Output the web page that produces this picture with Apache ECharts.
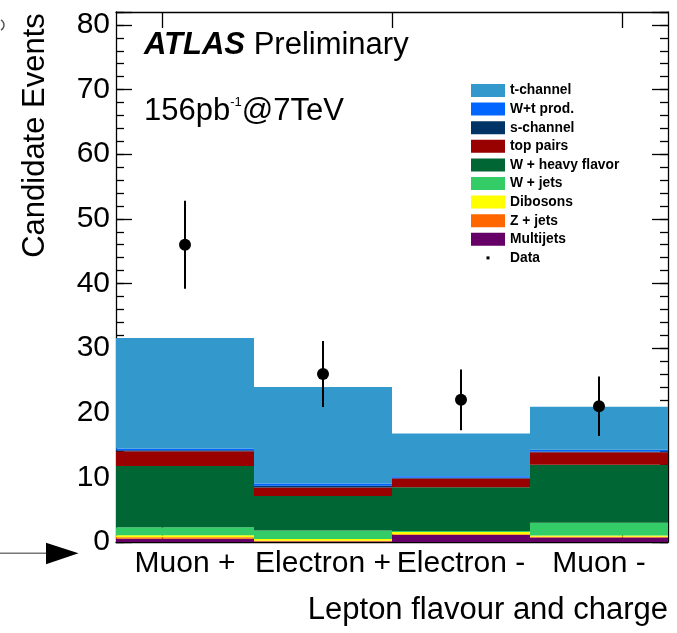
<!DOCTYPE html>
<html>
<head>
<meta charset="utf-8">
<script src="https://cdn.jsdelivr.net/npm/echarts@6/dist/echarts.min.js"></script>
<style>
  html, body { margin: 0; padding: 0; background: #fff; }
  #chart { width: 677px; height: 633px; }
</style>
</head>
<body>
<div id="chart"></div>
<script>
// Bins of the histogram
const categories = ['Muon +', 'Electron +', 'Electron -', 'Muon -'];

// Expected events per process, stacked from the bottom up
const multijets    = [0.50, 0.06, 1.07, 0.70];
const zJets        = [0.25, 0.15, 0.12, 0.10];
const dibosons     = [0.30, 0.25, 0.35, 0.22];
const wJets        = [1.25, 1.30, 0.15, 1.95];
const wHeavyFlavor = [9.45, 5.35, 6.80, 9.00];
const topPairs     = [2.30, 1.33, 1.35, 1.90];
const sChannel     = [0.15, 0.25, 0.10, 0.15];
const wtProd       = [0.25, 0.35, 0.25, 0.25];
const tChannel     = [17.10, 14.95, 6.60, 6.65];

// Observed candidates and their statistical uncertainty
const dataCounts = [46, 26, 22, 21];
const dataErrors = [6.8, 5.1, 4.7, 4.6];

// Axis ticks
const yMajorStep = 10;
const yMinorStep = 2;
const yMax = 82;
const xTickValues = [1 / 3, 2, 11 / 3];

const FONT = '"Liberation Sans", Arial, Helvetica, sans-serif';

const processes = [
  { name: 'Multijets',          values: multijets,    color: '#660066' },
  { name: 'Z + jets',           values: zJets,        color: '#ff6600' },
  { name: 'Dibosons',           values: dibosons,     color: '#ffff00' },
  { name: 'W + jets',           values: wJets,        color: '#33cc66' },
  { name: 'W + heavy flavor',   values: wHeavyFlavor, color: '#006633' },
  { name: 'top pairs',          values: topPairs,     color: '#990000' },
  { name: 's-channel',          values: sChannel,     color: '#003366' },
  { name: 'W+t prod.',          values: wtProd,       color: '#0066ff' },
  { name: 't-channel',          values: tChannel,     color: '#3399cc' }
];

const axisColor = '#000';
const lineW = 1.3;

const barSeries = processes.map(p => ({
  type: 'bar',
  name: p.name,
  data: p.values,
  stack: 'background',
  barWidth: '100%',
  barCategoryGap: '0%',
  silent: true,
  itemStyle: { color: p.color, opacity: 1 },
  emphasis: { disabled: true },
  xAxisIndex: 0,
  yAxisIndex: 0
}));

const legendItems = processes.slice().reverse().map(p => ({ name: p.name }));
legendItems.push({ name: 'Data', icon: 'path://M0,0M34,13M15.5,5h3v3h-3z' });

function hiddenValueXAxis(position) {
  return {
    type: 'value',
    position: position,
    min: 0,
    max: categories.length,
    axisLine: { show: position === 'top', onZero: false, lineStyle: { color: axisColor, width: lineW } },
    axisLabel: { show: false },
    splitLine: { show: false },
    axisTick: {
      show: true, inside: true, length: 16,
      customValues: xTickValues,
      lineStyle: { color: axisColor, width: lineW }
    }
  };
}

function yAxisDef(position, step, tickLen, withLabels, withLine) {
  return {
    type: 'value',
    position: position,
    min: 0,
    max: yMax,
    interval: step,
    axisLine: { show: withLine, onZero: false, lineStyle: { color: axisColor, width: lineW } },
    axisTick: { show: true, inside: true, length: tickLen, lineStyle: { color: axisColor, width: lineW } },
    axisLabel: withLabels ? {
      show: true, color: '#000', fontSize: 30, fontFamily: FONT, margin: 6,
      formatter: v => (v % yMajorStep === 0 ? String(v) : '')
    } : { show: false },
    splitLine: { show: false }
  };
}

const option = {
  backgroundColor: '#fff',
  animation: false,
  grid: { left: 116, right: 9, top: 12, bottom: 91, containLabel: false, outerBoundsMode: 'none' },
  legend: {
    orient: 'vertical',
    left: 471,
    top: 83.5,
    padding: 0,
    itemWidth: 34,
    itemHeight: 13,
    itemGap: 4.6,
    icon: 'rect',
    selectedMode: false,
    textStyle: { color: '#000', fontSize: 13.8, fontWeight: 'bold', fontFamily: FONT },
    data: legendItems
  },
  xAxis: [
    {
      type: 'category',
      data: categories,
      position: 'bottom',
      boundaryGap: true,
      axisLine: { show: true, onZero: false, lineStyle: { color: axisColor, width: lineW } },
      axisTick: { show: false },
      axisLabel: { color: '#000', fontSize: 30, fontFamily: FONT, margin: 7, interval: 0 },
      splitLine: { show: false }
    },
    hiddenValueXAxis('bottom'),
    hiddenValueXAxis('top')
  ],
  yAxis: [
    yAxisDef('left', yMajorStep, 16, true, true),
    yAxisDef('left', yMinorStep, 8, false, false),
    yAxisDef('right', yMajorStep, 16, false, true),
    yAxisDef('right', yMinorStep, 8, false, false)
  ],
  series: barSeries.concat([
    {
      type: 'custom',
      name: 'Data errors',
      xAxisIndex: 0,
      yAxisIndex: 0,
      silent: true,
      z: 9,
      data: dataCounts.map((v, i) => [i, v - dataErrors[i], v + dataErrors[i]]),
      encode: { x: 0, y: [1, 2] },
      renderItem: function (params, api) {
        const lo = api.coord([api.value(0), api.value(1)]);
        const hi = api.coord([api.value(0), api.value(2)]);
        return {
          type: 'line',
          shape: { x1: lo[0], y1: lo[1], x2: hi[0], y2: hi[1] },
          style: { stroke: '#000', lineWidth: 2 }
        };
      }
    },
    {
      type: 'scatter',
      name: 'Data',
      xAxisIndex: 0,
      yAxisIndex: 0,
      data: dataCounts,
      symbol: 'circle',
      symbolSize: 12,
      z: 10,
      silent: true,
      itemStyle: { color: '#000', opacity: 1 }
    }
  ]),
  graphic: [
    {
      type: 'text',
      x: 144, y: 45.5,
      style: {
        text: '{a|ATLAS} {p|Preliminary}',
        verticalAlign: 'middle',
        fill: '#000',
        font: '31px ' + FONT,
        rich: {
          a: { fontSize: 31, fontWeight: 'bold', fontStyle: 'italic', fontFamily: FONT, fill: '#000' },
          p: { fontSize: 31, fontFamily: FONT, fill: '#000' }
        }
      }
    },
    {
      type: 'text',
      x: 144, y: 111.4,
      style: {
        text: '{n|156pb}{s|-1}{n|@7TeV}',
        verticalAlign: 'middle',
        fill: '#000',
        font: '31px ' + FONT,
        rich: {
          n: { fontSize: 31, fontFamily: FONT, fill: '#000' },
          s: { fontSize: 13, fontFamily: FONT, fill: '#000', verticalAlign: 'top', lineHeight: 22 }
        }
      }
    },
    {
      type: 'text',
      x: 35.7, y: 135.5,
      rotation: Math.PI / 2,
      style: {
        text: 'Candidate Events',
        align: 'center',
        verticalAlign: 'middle',
        fill: '#000',
        font: '31px ' + FONT
      }
    },
    {
      type: 'text',
      x: 668, y: 610.7,
      style: {
        text: 'Lepton flavour and charge',
        align: 'right',
        verticalAlign: 'middle',
        fill: '#000',
        font: '31px ' + FONT
      }
    },
    {
      type: 'line',
      shape: { x1: 0, y1: 553.3, x2: 47, y2: 553.3 },
      style: { stroke: '#777', lineWidth: 1.5 }
    },
    {
      type: 'polygon',
      shape: { points: [[46, 542.7], [78.5, 553.3], [46, 564.3]] },
      style: { fill: '#000' }
    },
    {
      type: 'arc',
      shape: { cx: -2, cy: 25, r: 6, startAngle: -Math.PI / 3, endAngle: Math.PI / 3 },
      style: { stroke: '#555', lineWidth: 1.5, fill: 'none' }
    }
  ]
};

const chart = echarts.init(document.getElementById('chart'), null, { renderer: 'canvas' });
chart.setOption(option);
</script>
</body>
</html>
